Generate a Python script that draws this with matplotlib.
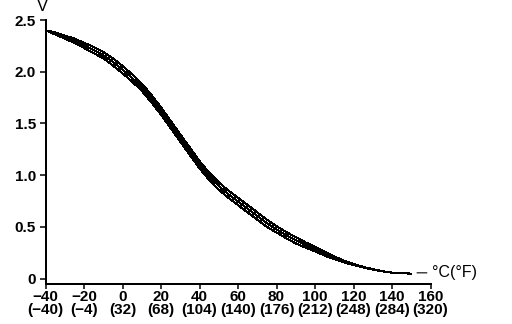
import numpy as np
import matplotlib
matplotlib.use("Agg")
import matplotlib.pyplot as plt

# temperature in degC, output voltage of the three curves (upper / nominal / lower)
temp_c = [-40, -35, -30, -25, -20, -15, -10, -5, 0, 5, 10, 15, 20, 25, 30, 35, 40, 45, 50, 55,
          60, 65, 70, 75, 80, 85, 90, 95, 100, 105, 110, 115, 120, 125, 130, 135, 140, 145, 150]
volt_mid = [2.40, 2.37, 2.335, 2.30, 2.255, 2.21, 2.16, 2.095, 2.02, 1.94, 1.85, 1.74, 1.62, 1.49,
            1.36, 1.23, 1.10, 0.99, 0.895, 0.815, 0.745, 0.675, 0.605, 0.535, 0.475, 0.42, 0.37,
            0.325, 0.285, 0.24, 0.20, 0.165, 0.135, 0.11, 0.088, 0.07, 0.057, 0.05, 0.048]
volt_hi = [2.40, 2.38, 2.35, 2.32, 2.28, 2.24, 2.19, 2.13, 2.055, 1.975, 1.885, 1.775, 1.655, 1.525,
           1.395, 1.265, 1.135, 1.025, 0.93, 0.85, 0.78, 0.71, 0.64, 0.57, 0.505, 0.45, 0.40,
           0.35, 0.307, 0.258, 0.213, 0.173, 0.14, 0.113, 0.09, 0.071, 0.057, 0.05, 0.048]
volt_lo = [2.40, 2.36, 2.32, 2.28, 2.23, 2.18, 2.13, 2.06, 1.985, 1.905, 1.815, 1.705, 1.585, 1.455,
           1.325, 1.195, 1.065, 0.955, 0.86, 0.78, 0.71, 0.64, 0.57, 0.50, 0.445, 0.39, 0.34,
           0.30, 0.263, 0.222, 0.187, 0.157, 0.13, 0.107, 0.086, 0.069, 0.057, 0.05, 0.048]

xticks_c = [-40, -20, 0, 20, 40, 60, 80, 100, 120, 140, 160]
xticks_f = [-40, -4, 32, 68, 104, 140, 176, 212, 248, 284, 320]
yticks = [0, 0.5, 1.0, 1.5, 2.0, 2.5]
ytick_labels = ["0", "0.5", "1.0", "1.5", "2.0", "2.5"]


def fmt(v):
    return str(v).replace("-", "\u2212")


plt.rcParams["font.family"] = ["Liberation Sans", "DejaVu Sans"]

fig = plt.figure(figsize=(5.12, 3.24), dpi=100)
ax = fig.add_axes([45.5 / 512, 40 / 324, 385 / 512, 264 / 324])

for v in (volt_hi, volt_mid, volt_lo):
    ax.plot(temp_c, v, color="black", lw=0.75, antialiased=False, solid_capstyle="butt")

ax.set_xlim(-40, 160)
ax.set_ylim(-0.053, 2.5)

ax.spines["top"].set_visible(False)
ax.spines["right"].set_visible(False)
for s in ("left", "bottom"):
    ax.spines[s].set_linewidth(1.4)
    ax.spines[s].set_antialiased(False)

ax.set_xticks(xticks_c)
ax.set_xticklabels([f"{fmt(c)}\n({fmt(f)})" for c, f in zip(xticks_c, xticks_f)],
                   fontsize=11, fontweight="bold", linespacing=0.88)
ax.set_yticks(yticks)
ax.set_yticklabels(ytick_labels, fontsize=11, fontweight="bold")
ax.tick_params(axis="x", direction="out", length=3.5, width=1.1, pad=1.0)
ax.tick_params(axis="y", direction="out", length=4.5, width=1.1, pad=2.5)

ax.annotate("V", xy=(0, 1), xycoords="axes fraction", xytext=(-2, 4),
            textcoords="offset points", ha="center", va="bottom", fontsize=12)

ax.annotate("\u00b0C(\u00b0F)", xy=(153, 0.055), xytext=(161, 0.055),
            ha="left", va="center", fontsize=11.5, annotation_clip=False,
            arrowprops=dict(arrowstyle="-", lw=0.8, color="black", shrinkA=2, shrinkB=0))

fig.savefig("out.png", dpi=100, facecolor="white")
